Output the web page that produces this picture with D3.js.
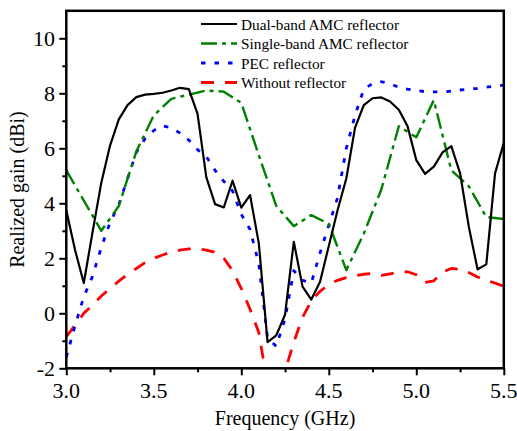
<!DOCTYPE html>
<html>
<head>
<meta charset="utf-8">
<script src="https://cdn.jsdelivr.net/npm/d3@7"></script>
<style>
  html, body { margin: 0; padding: 0; background: #fff; }
  svg { display: block; }
</style>
</head>
<body>
<svg id="chart" width="517" height="431"></svg>
<script>
// ---- data ----
const freq = [3.00,3.05,3.10,3.15,3.20,3.25,3.30,3.35,3.40,3.45,
              3.50,3.55,3.60,3.65,3.70,3.75,3.80,3.85,3.90,3.95,
              4.00,4.05,4.10,4.15,4.20,4.25,4.30,4.35,4.40,4.45,
              4.50,4.55,4.60,4.65,4.70,4.75,4.80,4.85,4.90,4.95,
              5.00,5.05,5.10,5.15,5.20,5.25,5.30,5.35,5.40,5.45,5.50];
const freqCoarse = [3.0,3.1,3.2,3.3,3.4,3.5,3.6,3.7,3.8,3.9,4.0,4.1,4.2,
                    4.3,4.4,4.5,4.6,4.7,4.8,4.9,5.0,5.1,5.2,5.3,5.4,5.5];

const dualBand = [3.75,2.3,1.1,2.95,4.75,6.1,7.05,7.57,7.86,7.95,
                  7.98,8.02,8.1,8.2,8.15,7.25,4.95,3.97,3.85,4.82,
                  3.84,4.3,2.55,-1.05,-0.8,-0.05,2.6,0.97,0.5,1.15,
                  2.45,3.75,4.9,6.75,7.57,7.82,7.85,7.7,7.4,6.8,
                  5.57,5.07,5.33,5.85,6.08,5.1,3.15,1.6,1.78,5.09,6.2];
const singleBand = [5.2,4.1,3.0,3.9,5.88,7.2,7.8,7.95,8.1,8.06,7.65,5.75,3.9,
                    3.17,3.57,3.25,1.57,2.9,4.5,6.8,6.4,7.75,5.2,4.62,3.5,3.43];
const pec = [-1.6,-0.45,0.6,1.35,2.4,3.3,3.95,4.9,5.85,6.35,
             6.65,6.82,6.75,6.55,6.3,5.95,5.7,5.2,4.8,4.45,
             3.6,3.05,1.8,-0.9,-1.2,-0.2,1.55,1.2,1.1,2.2,
             3.2,4.2,6.0,7.2,8.15,8.35,8.42,8.35,8.22,8.15,
             8.1,8.06,8.05,8.05,8.08,8.12,8.15,8.18,8.22,8.26,8.3];
const noReflector = [-0.85,-0.43,0.0,0.3,0.63,0.9,1.17,1.42,1.63,1.84,
                     2.0,2.12,2.23,2.3,2.34,2.34,2.3,2.22,2.0,1.55,
                     0.9,0.15,-0.7,-2.6,-3.6,-2.1,-1.05,-0.15,0.45,0.8,
                     1.05,1.2,1.3,1.37,1.42,1.45,1.38,1.43,1.5,1.51,
                     1.4,1.12,1.18,1.5,1.63,1.6,1.48,1.32,1.2,1.1,0.98];

const xTicks = [3.0,3.5,4.0,4.5,5.0,5.5];
const xMinorTicks = [3.25,3.75,4.25,4.75,5.25];
const yTicks = [-2,0,2,4,6,8,10];
const yMinorTicks = [-1,1,3,5,7,9];

const seriesNames = ["Dual-band AMC reflector","Single-band AMC reflector","PEC reflector","Without reflector"];

// ---- layout ----
const FONT = "'Liberation Serif', 'Times New Roman', 'DejaVu Serif', serif";
const L = 66.3, R = 503.8, T = 10.8, B = 368.3;
const x = d3.scaleLinear().domain([3.0, 5.5]).range([L, R]);
const y = d3.scaleLinear().domain([-2, 11]).range([B, T]);

const svg = d3.select("#chart").attr("font-family", FONT);

svg.append("defs").append("clipPath").attr("id","plotclip")
  .append("rect").attr("x", L).attr("y", T).attr("width", R - L).attr("height", B - T);

const styles = [
  {color:"#000000", width:2.2, dash:null},
  {color:"#008000", width:2.4, dash:"16,5,4,5"},
  {color:"#0000ff", width:2.8, dash:"4.5,9"},
  {color:"#ff0000", width:2.8, dash:"13,11"}
];

const series = [
  {xs: freq, ys: dualBand},
  {xs: freqCoarse, ys: singleBand},
  {xs: freq, ys: pec},
  {xs: freq, ys: noReflector}
];

const line = d3.line().x(d => x(d[0])).y(d => y(d[1]));
const plot = svg.append("g").attr("clip-path","url(#plotclip)");

[3,2,1,0].forEach(i => {
  const s = series[i], st = styles[i];
  plot.append("path")
    .datum(s.xs.map((v,k) => [v, s.ys[k]]))
    .attr("d", line)
    .attr("fill","none")
    .attr("stroke", st.color)
    .attr("stroke-width", st.width)
    .attr("stroke-linejoin","round")
    .attr("stroke-dasharray", st.dash);
});

// ---- axes ----
const xAxis = svg.append("g").attr("transform", `translate(0,${B})`)
  .call(d3.axisBottom(x).tickValues(xTicks).tickSize(7).tickFormat(""));
const xAxisMinor = svg.append("g").attr("transform", `translate(0,${B})`)
  .call(d3.axisBottom(x).tickValues(xMinorTicks).tickSize(4).tickFormat(""));
const yAxis = svg.append("g").attr("transform", `translate(${L},0)`)
  .call(d3.axisLeft(y).tickValues(yTicks).tickSize(7).tickFormat(""));
const yAxisMinor = svg.append("g").attr("transform", `translate(${L},0)`)
  .call(d3.axisLeft(y).tickValues(yMinorTicks).tickSize(4).tickFormat(""));
[xAxis, xAxisMinor, yAxis, yAxisMinor].forEach(g => {
  g.select(".domain").remove();
  g.selectAll(".tick line").attr("stroke","#000").attr("stroke-width",2);
});

// tick labels
svg.append("g").selectAll("text").data(xTicks).join("text")
  .attr("font-family", FONT)
  .attr("x", d => x(d)).attr("y", 398)
  .attr("text-anchor","middle").attr("font-size","22px")
  .text(d => d.toFixed(1));
svg.append("g").selectAll("text").data(yTicks).join("text")
  .attr("font-family", FONT)
  .attr("x", 55).attr("y", d => y(d)).attr("dy","0.35em")
  .attr("text-anchor","end").attr("font-size","22px")
  .text(d => d);

// frame
svg.append("rect").attr("x", L).attr("y", T).attr("width", R - L).attr("height", B - T)
  .attr("fill","none").attr("stroke","#000").attr("stroke-width",2.5);

// axis titles
svg.append("text").attr("font-family", FONT).attr("x", (L + R) / 2).attr("y", 425)
  .attr("text-anchor","middle").attr("font-size","20px").text("Frequency (GHz)");
svg.append("text").attr("font-family", FONT)
  .attr("transform", `translate(24,${(T + B) / 2}) rotate(-90)`)
  .attr("text-anchor","middle").attr("font-size","20px").text("Realized gain (dBi)");

// legend
const legY = [24, 43.5, 63, 82.5];
const leg = svg.append("g");
seriesNames.forEach((name, i) => {
  const st = styles[i];
  leg.append("line").attr("x1", 201).attr("x2", 237).attr("y1", legY[i]).attr("y2", legY[i])
    .attr("stroke", st.color).attr("stroke-width", st.width).attr("stroke-dasharray", st.dash);
  leg.append("text").attr("font-family", FONT).attr("x", 241).attr("y", legY[i] + 5.5)
    .attr("font-size","15.3px").text(name);
});
</script>
</body>
</html>
